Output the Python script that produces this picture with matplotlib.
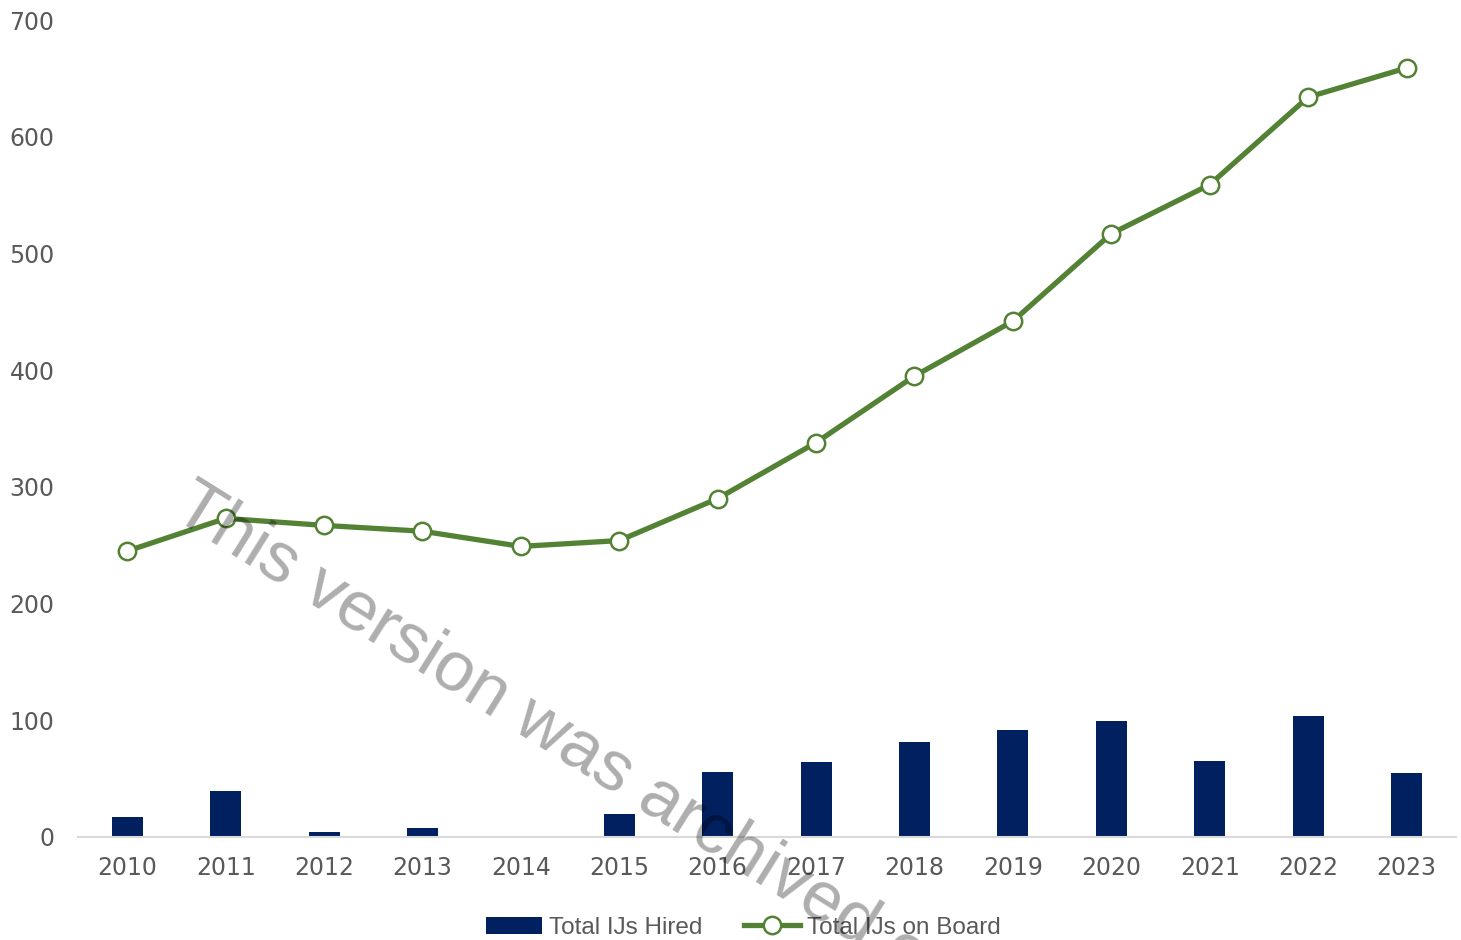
import numpy as np
import matplotlib
matplotlib.use("Agg")
import matplotlib.pyplot as plt

years = ["2010", "2011", "2012", "2013", "2014", "2015", "2016",
         "2017", "2018", "2019", "2020", "2021", "2022", "2023"]
hired = [17, 39, 4, 8, 0, 20, 56, 64, 81, 92, 99, 65, 104, 55]
on_board = [245, 273, 267, 262, 249, 254, 290, 338, 395, 442, 517, 559, 634, 659]

navy = "#002060"
green = "#548235"
text_grey = "#595959"

plt.rcParams["font.family"] = ["DejaVu Sans"]

fig = plt.figure(figsize=(14.61, 9.40), dpi=100)
ax = fig.add_axes([0.0534, 0.1096, 0.943, 0.869])

x = np.arange(len(years))
bars = ax.bar(x, hired, width=0.315, color=navy, label="Total IJs Hired", zorder=2)
line, = ax.plot(x, on_board, color=green, linewidth=3.8, marker="o", markersize=12.5,
                markerfacecolor="white", markeredgecolor=green, markeredgewidth=1.8,
                label="Total IJs on Board", zorder=3)

ax.set_xlim(-0.5, len(years) - 0.5)
ax.set_ylim(0, 700)
ax.set_yticks(range(0, 701, 100))
ax.set_xticks(x)
ax.set_xticklabels(years)

for side in ["top", "right", "left"]:
    ax.spines[side].set_visible(False)
ax.spines["bottom"].set_color("#d9d9d9")
ax.spines["bottom"].set_linewidth(1.5)
ax.tick_params(axis="both", length=0, labelsize=17, colors=text_grey)
ax.tick_params(axis="x", pad=14)
ax.tick_params(axis="y", pad=17)

ax.legend([bars, line], ["Total IJs Hired", "Total IJs on Board"],
          loc="center", bbox_to_anchor=(0.483, -0.111), ncol=2, frameon=False,
          prop={"family": "Liberation Sans", "size": 17.5}, labelcolor=text_grey,
          handlelength=2.3, handletextpad=0.3, columnspacing=1.7)

# watermark, runs off the bottom edge like in the source
fig.text(0.135, 0.497, "This version was archived on", rotation=-32,
         rotation_mode="anchor", ha="left", va="top", fontsize=51,
         family="Liberation Sans", color="black", alpha=0.32, zorder=10)

fig.savefig("out.png", dpi=100)
